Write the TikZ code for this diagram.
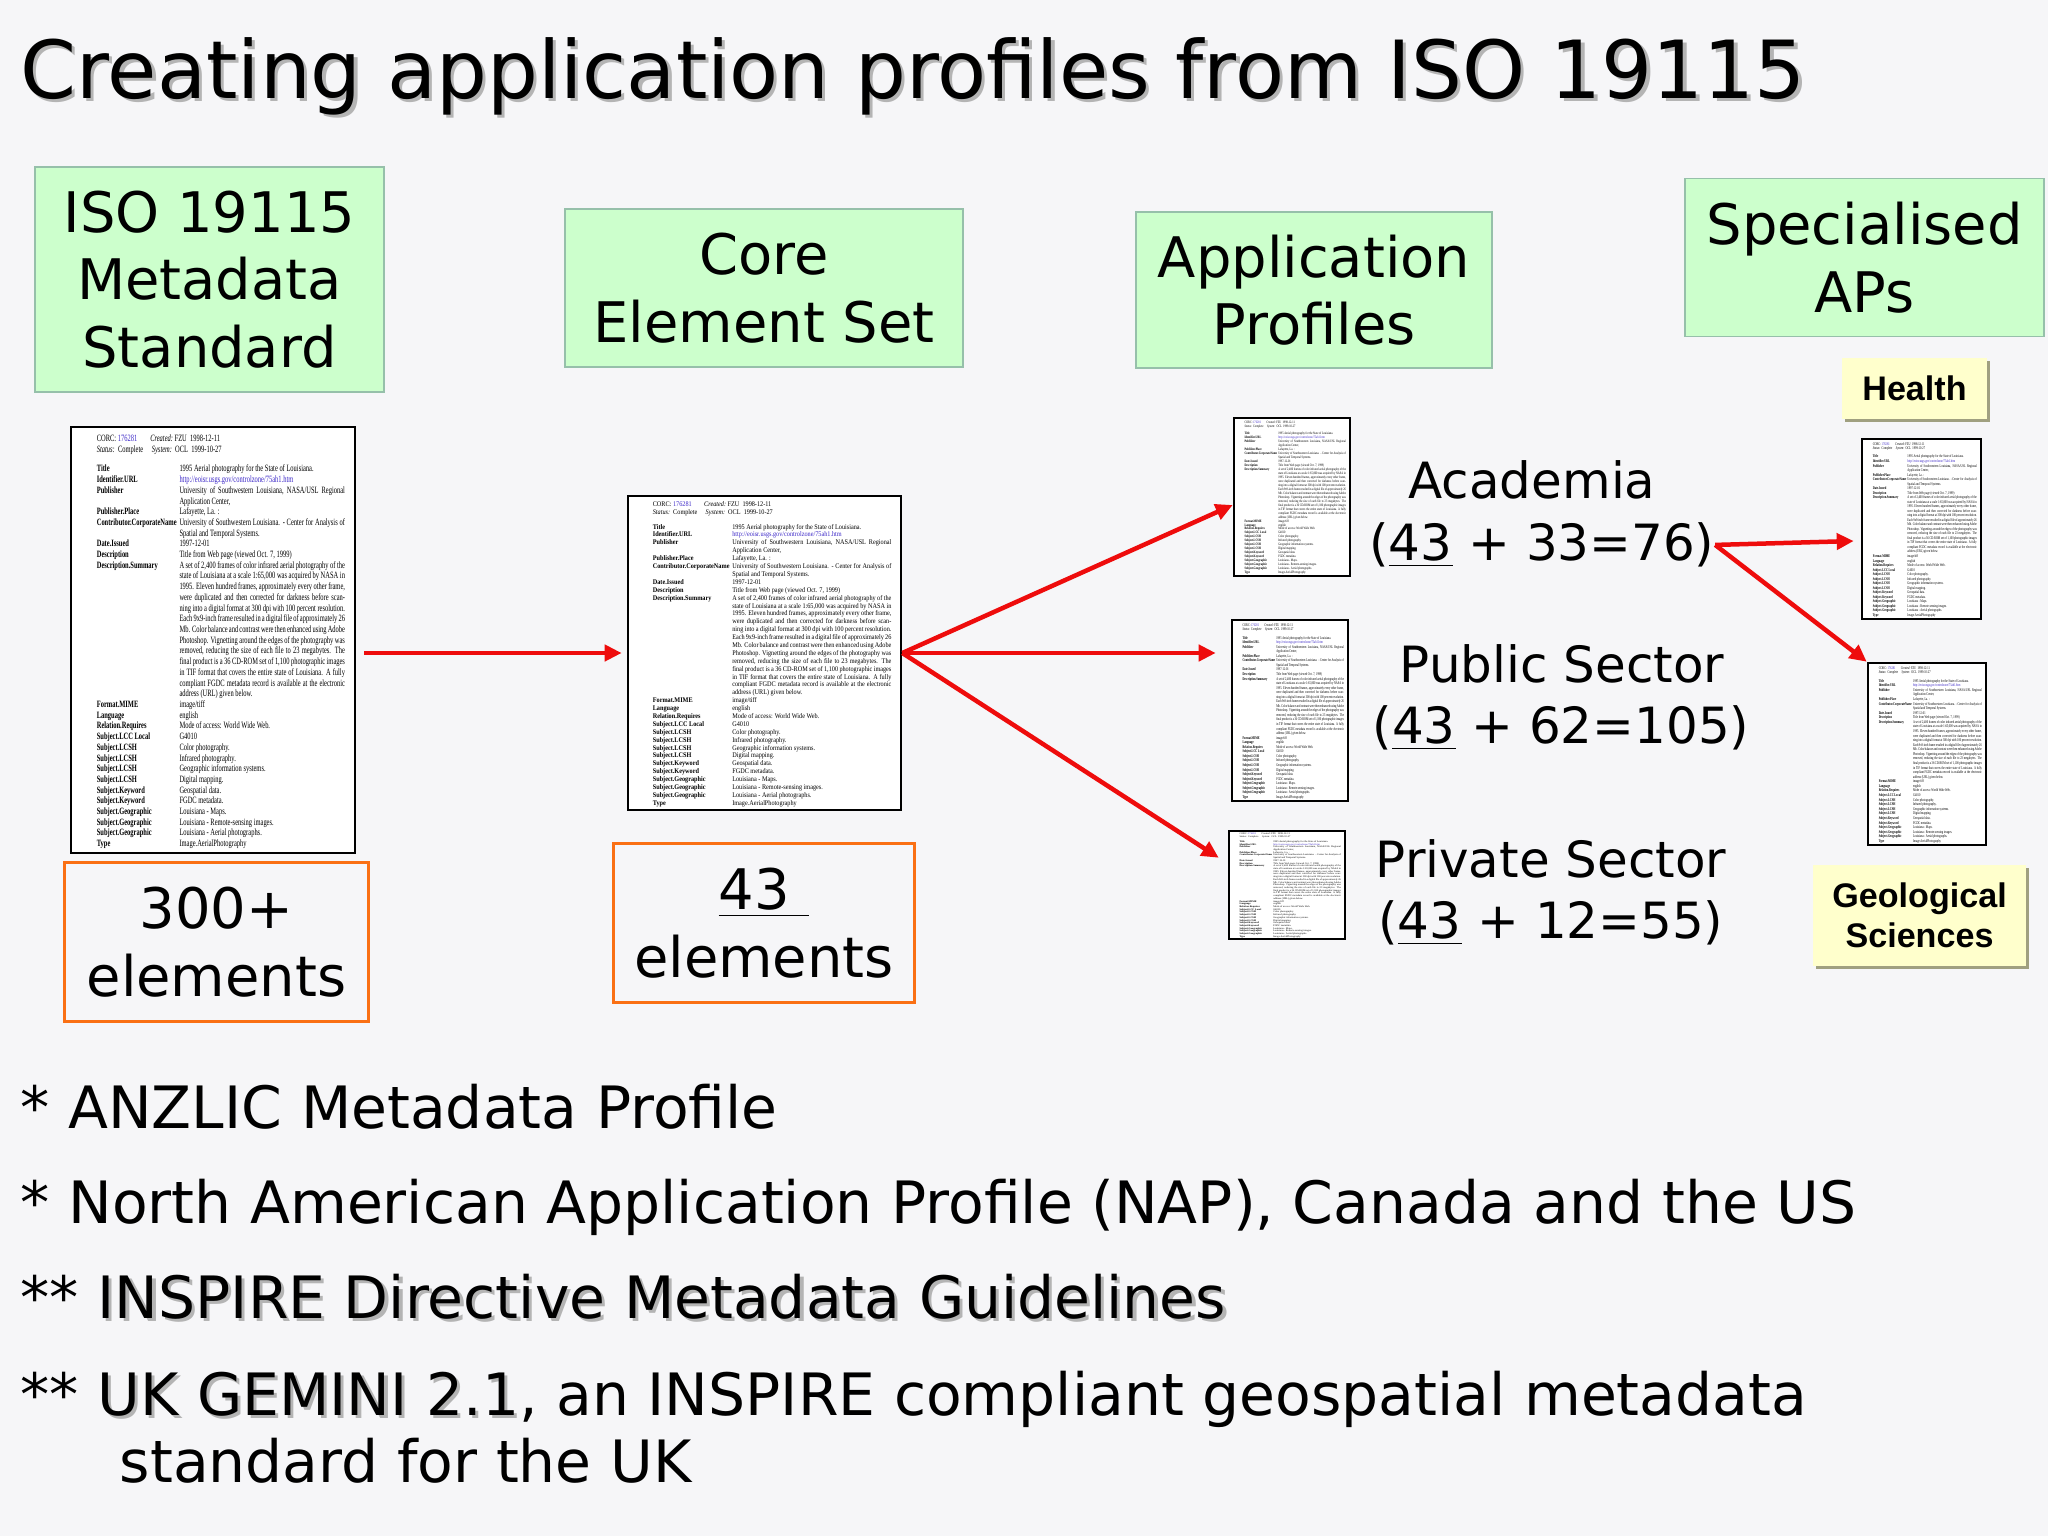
\documentclass[tikz,border=0pt]{standalone}
\usepackage{fontspec}
\usepackage{array}
\usepackage{graphicx}
\usepackage{tikz}
\usetikzlibrary{arrows.meta,shadows}
\setmainfont{DejaVu Sans}
\newfontfamily\tagfont{Liberation Sans}
\newfontfamily\recfont{Liberation Serif}

\definecolor{slidebg}{RGB}{246,246,248}
\definecolor{greenfill}{RGB}{204,255,204}
\definecolor{greenedge}{RGB}{150,192,170}
\definecolor{boxorange}{RGB}{250,112,20}
\definecolor{tagfill}{RGB}{255,255,204}
\definecolor{tagshadow}{RGB}{160,160,128}
\definecolor{arrowred}{RGB}{238,12,12}
\definecolor{shadowgrey}{RGB}{180,180,180}
\definecolor{linkblue}{RGB}{60,40,200}

\newcommand{\titlefont}{\fontsize{22.8}{27}\selectfont}
\newcommand{\boxfont}{\fontsize{15.9}{19.2}\selectfont}
\newcommand{\labelfont}{\fontsize{14.2}{17}\selectfont}
\newcommand{\itemfont}{\fontsize{16.6}{19.1}\selectfont}
\newcommand{\shtext}[1]{\makebox[0pt][l]{\hspace{0.9pt}\raisebox{-0.9pt}{\textcolor{shadowgrey}{#1}}}#1}

% the catalogue record shown on every page thumbnail
\newcommand{\dcrecord}{{\recfont\fontsize{9}{10}\selectfont
\begin{tabular}{@{\hspace{36pt}}>{\bfseries}l@{\hspace{4pt}}p{230pt}@{\hspace{14pt}}}
\multicolumn{2}{@{\hspace{36pt}}l@{\hspace{14pt}}}{\rule{0pt}{14pt}CORC:~\textcolor{linkblue}{176281}\hspace{18pt}\textit{Created:}~FZU~~1998-12-11}\\
\multicolumn{2}{@{\hspace{36pt}}l@{\hspace{14pt}}}{\textit{Status:}~~Complete\hspace{12pt}\textit{System:}~~OCL~~1999-10-27}\\[8pt]
Title & 1995 Aerial photography for the State of Louisiana.\\
Identifier.URL & \textcolor{linkblue}{http://eoisr.usgs.gov/controlzone/75ah1.htm}\\
Publisher & University of Southwestern Louisiana, NASA/USL Regional Application Center,\\
Publisher.Place & Lafayette, La. :\\
Contributor.CorporateName & University of Southwestern Louisiana. - Center for Analysis of Spatial and Temporal Systems.\\
Date.Issued & 1997-12-01\\
Description & Title from Web page (viewed Oct. 7, 1999)\\
Description.Summary & A set of 2,400 frames of color infrared aerial photography of the state of Louisiana at a scale 1:65,000 was acquired by NASA in 1995. Eleven hundred frames, approximately every other frame, were duplicated and then corrected for darkness before scanning into a digital format at 300 dpi with 100 percent resolution. Each 9x9-inch frame resulted in a digital file of approximately 26 Mb. Color balance and contrast were then enhanced using Adobe Photoshop. Vignetting around the edges of the photography was removed, reducing the size of each file to 23 megabytes. The final product is a 36 CD-ROM set of 1,100 photographic images in TIF format that covers the entire state of Louisiana. A fully compliant FGDC metadata record is available at the electronic address (URL) given below.\\
Format.MIME & image/tiff\\
Language & english\\
Relation.Requires & Mode of access: World Wide Web.\\
Subject.LCC Local & G4010\\
Subject.LCSH & Color photography.\\
Subject.LCSH & Infrared photography.\\
Subject.LCSH & Geographic information systems.\\
Subject.LCSH & Digital mapping.\\
Subject.Keyword & Geospatial data.\\
Subject.Keyword & FGDC metadata.\\
Subject.Geographic & Louisiana - Maps.\\
Subject.Geographic & Louisiana - Remote-sensing images.\\
Subject.Geographic & Louisiana - Aerial photographs.\\
Type & Image.AerialPhotography\\[3pt]
\end{tabular}}}

\begin{document}
\begin{tikzpicture}[x=0.01cm, y=-0.01cm,
    greenbox/.style={draw=greenedge, line width=0.015cm, fill=greenfill, align=center, inner sep=0pt, font=\boxfont},
    orangebox/.style={draw=boxorange, line width=0.03cm, align=center, inner sep=0pt, font=\boxfont},
    docpage/.style={draw=black, line width=0.025cm, fill=white, inner sep=0pt},
    yellowtag/.style={fill=tagfill, align=center, inner sep=0pt,
      font=\tagfont\bfseries\fontsize{9.7}{11.4}\selectfont,
      drop shadow={shadow xshift=0.03cm, shadow yshift=-0.03cm, fill=tagshadow, opacity=1}},
    labeltext/.style={anchor=base, inner sep=0pt, font=\labelfont},
    itemtext/.style={anchor=base west, inner sep=0pt, font=\itemfont},
    redarrow/.style={draw=arrowred, line width=0.045cm, -{Triangle[length=0.17cm, width=0.16cm]}}]
    \fill[slidebg] (0,0) rectangle (2048,1536);
    \useasboundingbox (0,0) rectangle (2048,1536);

    \node[anchor=base west, inner sep=0pt, font=\titlefont] (title) at (20,98)
        {\shtext{Creating application profiles from ISO 19115}};

    % column headings
    \node[greenbox, minimum width=3.49cm, minimum height=2.25cm] (iso) at (209.5,279.5) {ISO 19115\\Metadata\\Standard};
    \node[greenbox, minimum width=3.98cm, minimum height=1.58cm] (core) at (764,288) {Core\\Element Set};
    \node[greenbox, minimum width=3.56cm, minimum height=1.56cm] (apps) at (1314,290) {Application\\Profiles};
    \node[greenbox, minimum width=3.59cm, minimum height=1.58cm] (spec) at (1864.5,257.5) {Specialised\\APs};

    % page thumbnails
    \node[docpage] (docA) at (213,640) {\resizebox*{2.84cm}{4.26cm}{\dcrecord}};
    \node[docpage] (docB) at (764.5,653) {\resizebox*{2.73cm}{3.14cm}{\dcrecord}};
    \node[docpage] (docC) at (1292,497) {\resizebox*{1.16cm}{1.58cm}{\dcrecord}};
    \node[docpage] (docD) at (1290,710.5) {\resizebox*{1.16cm}{1.81cm}{\dcrecord}};
    \node[docpage] (docE) at (1287,885) {\resizebox*{1.16cm}{1.08cm}{\dcrecord}};
    \node[docpage] (docF) at (1921.5,529) {\resizebox*{1.19cm}{1.80cm}{\dcrecord}};
    \node[docpage] (docG) at (1927,754) {\resizebox*{1.18cm}{1.82cm}{\dcrecord}};

    \node[orangebox, minimum width=3.03cm, minimum height=1.58cm] (allel) at (216.5,942) {300+\\elements};
    \node[orangebox, minimum width=3.00cm, minimum height=1.58cm] (coreel) at (764,923) {\underline{43\hspace{0.35em}}\\elements};

    \node[labeltext] (aca) at (1532,498) {Academia};
    \node[labeltext] (acanum) at (1542,560) {(\underline{43} + 33=76)};
    \node[labeltext] (pub) at (1562,682) {Public Sector};
    \node[labeltext] (pubnum) at (1561,743) {(\underline{43} + 62=105)};
    \node[labeltext] (priv) at (1551,877) {Private Sector};
    \node[labeltext] (privnum) at (1551,938) {(\underline{43} + 12=55)};

    \node[yellowtag, minimum width=1.45cm, minimum height=0.61cm] (health) at (1914.5,388.5) {Health};
    \node[yellowtag, minimum width=2.13cm, minimum height=1.01cm] (geo) at (1919.5,915.5) {Geological\\Sciences};

    \draw[redarrow, shorten <=0.08cm, shorten >=0.05cm] (docA.east |- docB.west) -- (docB.west);
    \draw[redarrow] (docB.east) -- ([yshift=-0.08cm]docC.west);
    \draw[redarrow, shorten >=0.15cm] (docB.east) -- (docD.west |- docB.east);
    \draw[redarrow] (docB.east) -- ([xshift=-0.09cm, yshift=-0.28cm]docE.north west);
    \draw[redarrow] (acanum.east) -- ([xshift=-0.07cm, yshift=-0.12cm]docF.west);
    \draw[redarrow] (acanum.east) -- (docG.north west);

    \node[itemtext] (item1) at (20,1128) {* ANZLIC Metadata Profile};
    \node[itemtext] (item2) at (20,1223) {* North American Application Profile (NAP), Canada and the US};
    \node[itemtext] (item3) at (20,1318) {** \shtext{INSPIRE Directive Metadata Guidelines}};
    \node[itemtext] (item4) at (20,1415) {** \shtext{UK GEMINI 2.1}, an INSPIRE compliant geospatial metadata};
    \node[itemtext] (item5) at (119,1482) {standard for the UK};
\end{tikzpicture}
\end{document}
